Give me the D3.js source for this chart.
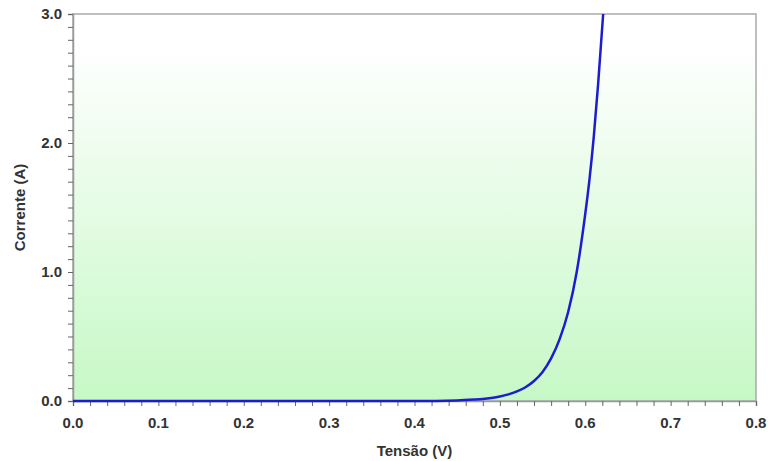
<!DOCTYPE html>
<html><head><meta charset="utf-8">
<script src="https://cdn.jsdelivr.net/npm/d3@7"></script>
<style>body{margin:0;background:#fff}svg{display:block}</style>
</head><body>
<script>
const voltage = [0.00, 0.10, 0.20, 0.30, 0.40, 0.45, 0.47, 0.48, 0.49, 0.50, 0.51, 0.52, 0.53, 0.54, 0.55, 0.56, 0.57, 0.58, 0.59, 0.60, 0.605, 0.61, 0.615, 0.621];
const current = [0.00, 0.00, 0.00, 0.00, 0.00, 0.004, 0.011, 0.016, 0.024, 0.035, 0.051, 0.074, 0.107, 0.155, 0.225, 0.33, 0.48, 0.69, 1.00, 1.45, 1.72, 2.05, 2.45, 3.00];
const xTicks = [0, 0.1, 0.2, 0.3, 0.4, 0.5, 0.6, 0.7, 0.8];
const yTicks = [0, 1, 2, 3];
const xLabel = "Tensão (V)";
const yLabel = "Corrente (A)";

const W = 768, H = 461;
const m = {l: 73, r: 12, t: 14, b: 60};
const svg = d3.select("body").append("svg").attr("width", W).attr("height", H);
const x = d3.scaleLinear().domain([0, 0.8]).range([m.l, W - m.r]);
const y = d3.scaleLinear().domain([0, 3]).range([H - m.b, m.t]);

const defs = svg.append("defs");
const g = defs.append("linearGradient").attr("id", "bg").attr("x1", 0).attr("y1", 0).attr("x2", 0).attr("y2", 1);
g.append("stop").attr("offset", "0%").attr("stop-color", "#ffffff");
g.append("stop").attr("offset", "8%").attr("stop-color", "#ffffff");
g.append("stop").attr("offset", "100%").attr("stop-color", "#c6f8c6");

svg.append("rect").attr("x", x(0)).attr("y", y(3)).attr("width", x(0.8) - x(0)).attr("height", y(0) - y(3)).attr("fill", "url(#bg)")
  .attr("stroke", "#aaaaaa").attr("stroke-width", 1.5);

const font = "'Liberation Sans', Arial, sans-serif";

// X axis
const xAxis = d3.axisBottom(x).tickValues(d3.range(0, 41).map(i => i * 0.02)).tickSize(5).tickFormat("");
const gx = svg.append("g").attr("transform", `translate(0,${y(0)})`).call(xAxis);
gx.select(".domain").attr("stroke", "#999").attr("stroke-width", 1.5);
gx.selectAll(".tick line").attr("stroke", "#666");
svg.append("g").selectAll("text").data(xTicks).join("text")
  .attr("x", d => x(d)).attr("y", y(0) + 27).attr("text-anchor", "middle")
  .attr("font-family", font).attr("font-weight", "bold").attr("font-size", 15).attr("fill", "#333")
  .text(d => d.toFixed(1));

// Y axis
const yAxis = d3.axisLeft(y).tickValues(d3.range(0, 31).map(i => i * 0.1)).tickSize(5).tickFormat("");
const gy = svg.append("g").attr("transform", `translate(${x(0)},0)`).call(yAxis);
gy.select(".domain").attr("stroke", "#999").attr("stroke-width", 1.5);
gy.selectAll(".tick line").attr("stroke", "#666");
svg.append("g").selectAll("text").data(yTicks).join("text")
  .attr("x", x(0) - 11).attr("y", d => y(d) + 5).attr("text-anchor", "end")
  .attr("font-family", font).attr("font-weight", "bold").attr("font-size", 15).attr("fill", "#333")
  .text(d => d.toFixed(1));

// Titles
svg.append("text").attr("x", (x(0) + x(0.8)) / 2).attr("y", 456).attr("text-anchor", "middle")
  .attr("font-family", font).attr("font-weight", "bold").attr("font-size", 15).attr("fill", "#333").text(xLabel);
svg.append("text").attr("transform", `translate(25,${(y(0) + y(3)) / 2}) rotate(-90)`).attr("text-anchor", "middle")
  .attr("font-family", font).attr("font-weight", "bold").attr("font-size", 15).attr("fill", "#333").text(yLabel);

// Curve
const pts = voltage.map((v, i) => [v, current[i]]);
svg.append("path").datum(pts)
  .attr("d", d3.line().x(d => x(d[0])).y(d => y(d[1])).curve(d3.curveMonotoneX))
  .attr("fill", "none").attr("stroke", "#1c1cd0").attr("stroke-width", 2.5);
</script>
</body></html>
